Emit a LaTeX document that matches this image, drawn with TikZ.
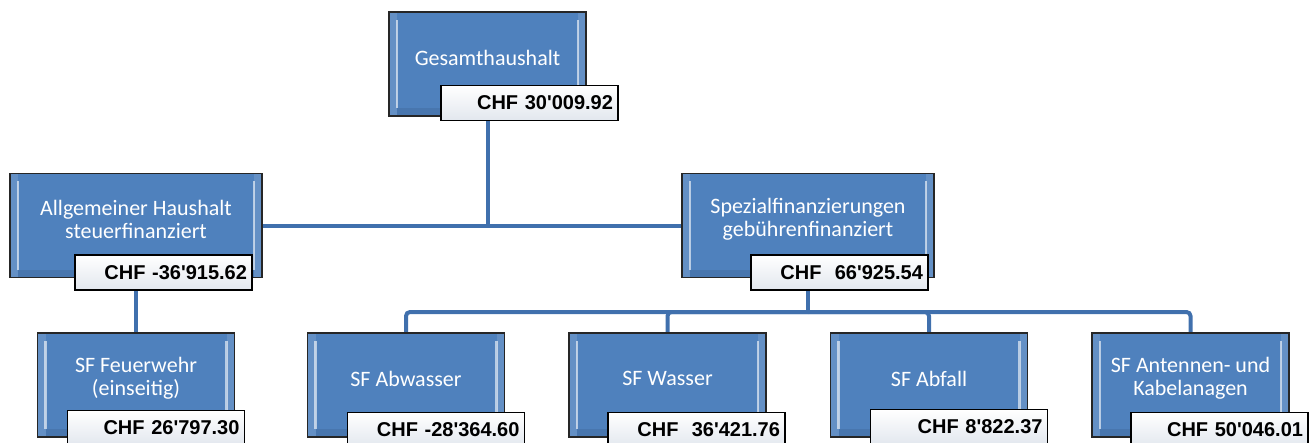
\documentclass[tikz,border=0pt]{standalone}
\usepackage{fontspec}
\newfontfamily\boxfont{Carlito}
\newfontfamily\valfont{Liberation Sans}
\usetikzlibrary{backgrounds}
\definecolor{boxblue}{RGB}{79,129,189}
\definecolor{lineblue}{RGB}{64,112,173}
\definecolor{valshade}{RGB}{226,231,238}
\tikzstyle{unit} = [rectangle, draw=black!85, line width=0.8pt, fill=boxblue,
    minimum width=98.5pt, minimum height=52pt,
    path picture={
      \fill [white, opacity=0.12] (path picture bounding box.north west) rectangle
        ([xshift=4pt]path picture bounding box.south west);
      \fill [white, opacity=0.12] (path picture bounding box.north east) rectangle
        ([xshift=-4pt]path picture bounding box.south east);
      \fill [black, opacity=0.08] ([xshift=4pt]path picture bounding box.south west) rectangle
        ([xshift=-4pt,yshift=4pt]path picture bounding box.south east);
      \draw [white, opacity=0.6, line width=1.2pt]
        ([xshift=4pt,yshift=-4pt]path picture bounding box.north west) --
        ([xshift=4pt,yshift=4pt]path picture bounding box.south west)
        ([xshift=-4pt,yshift=-4pt]path picture bounding box.north east) --
        ([xshift=-4pt,yshift=4pt]path picture bounding box.south east);
    }]
\tikzstyle{wide} = [unit, minimum width=126pt]
\tikzstyle{unittext} = [text=white, align=center, yshift=3.25pt,
    font=\boxfont\fontsize{11}{11.5}\selectfont]
\tikzstyle{value} = [rectangle, draw=black, line width=0.8pt, top color=white,
    bottom color=valshade, text width=83.5pt, align=right, inner xsep=2.5pt,
    minimum height=17.5pt, anchor=north east,
    font=\valfont\bfseries\fontsize{10}{12}\selectfont]
\tikzstyle{line} = [draw=lineblue, line width=2pt]

\begin{document}
\begin{tikzpicture}[x=0.5pt, y=-0.5pt, node distance=130.75pt]
    \useasboundingbox (0,0) rectangle (1315,443);
    % Place nodes
    \node [unit, label={[unittext]center:{Gesamthaushalt}}] (total) at (487.5,64) {};
    \node [value] (totalval) at ([xshift=16pt,yshift=16pt]total.south east) {CHF 30\textquotesingle 009.92};
    \node [wide, label={[unittext]center:{Allgemeiner Haushalt\\steuerfinanziert}}] (general) at (136,225.5) {};
    \node [value] (generalval) at ([xshift=-5pt,yshift=12pt]general.south east) {CHF -36\textquotesingle 915.62};
    \node [wide, label={[unittext]center:{Spezialfinanzierungen\\gebührenfinanziert}}] (special) at (808,225.5) {};
    \node [value] (specialval) at ([xshift=-3pt,yshift=12pt]special.south east) {CHF~~66\textquotesingle 925.54};
    \node [unit, label={[unittext]center:{SF Feuerwehr\\(einseitig)}}] (fire) at (136,385) {};
    \node [value] (fireval) at ([xshift=5pt,yshift=14pt]fire.south east) {CHF 26\textquotesingle 797.30};
    \node [unit, label={[unittext]center:{SF Abwasser}}] (sewage) at (406,385) {};
    \node [value] (sewageval) at ([xshift=10pt,yshift=13pt]sewage.south east) {CHF -28\textquotesingle 364.60};
    \node [unit, right of=sewage, label={[unittext]center:{SF Wasser}}] (water) {};
    \node [value] (waterval) at ([xshift=9.5pt,yshift=13pt]water.south east) {CHF~~36\textquotesingle 421.76};
    \node [unit, right of=water, label={[unittext]center:{SF Abfall}}] (waste) {};
    \node [value] (wasteval) at ([xshift=10pt,yshift=14.5pt]waste.south east) {CHF 8\textquotesingle 822.37};
    \node [unit, right of=waste, label={[unittext]center:{SF Antennen- und\\Kabelanagen}}] (antenna) {};
    \node [value] (antennaval) at ([xshift=9.5pt,yshift=13pt]antenna.south east) {CHF 50\textquotesingle 046.01};
    % Draw edges
    \begin{scope}[on background layer]
    \path [line] (total) -- (total |- general.east);
    \path [line] (general.east) -- (special.west);
    \path [line] (general) -- (fire);
    \coordinate (bus) at (0,312);
    \path [line] (special) -- (special |- bus);
    \foreach \child in {sewage,water,waste,antenna}
        \path [line, rounded corners=2pt] (special |- bus) -| (\child);
    \end{scope}
\end{tikzpicture}
\end{document}
